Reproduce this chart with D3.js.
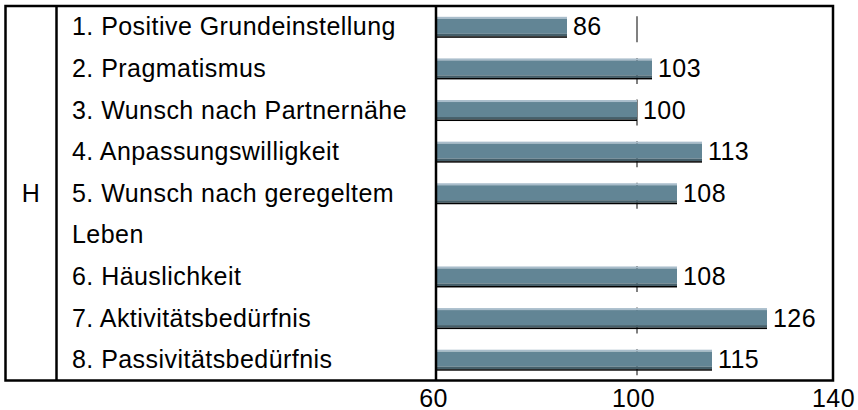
<!DOCTYPE html>
<html>
<head>
<meta charset="utf-8">
<script src="https://cdn.jsdelivr.net/npm/d3@7"></script>
<style>
  body { margin: 0; background: #fff; }
  svg text { font-family: "Liberation Sans", Arial, sans-serif; font-size: 25px; letter-spacing: 0.45px; fill: #000; }
</style>
</head>
<body>
<div id="chart"></div>
<script>
// one entry per item; an item may wrap onto a second row
var items = [
    ["1. Positive Grundeinstellung"],
    ["2. Pragmatismus"],
    ["3. Wunsch nach Partnernähe"],
    ["4. Anpassungswilligkeit"],
    ["5. Wunsch nach geregeltem", "Leben"],
    ["6. Häuslichkeit"],
    ["7. Aktivitätsbedürfnis"],
    ["8. Passivitätsbedürfnis"]
];
var values = [86, 103, 100, 113, 108, 108, 126, 115];
var groupLabel = "H";
var xTicks = [60, 100, 140];
var refValue = 100;

function drawChart() {
    const width = 858;
    const height = 410;
    const boxLeft = 5.5, boxTop = 6, boxRight = 833, boxBottom = 380.5;
    const col1 = 56.5, col2 = 436;

    // figure out which row each item starts on
    var rows = [];
    var rowCount = 0;
    items.forEach(function(lines, i) {
        rows.push({ index: i, row: rowCount, lines: lines, value: values[i] });
        rowCount += lines.length;
    });

    const yScale = d3.scaleBand()
        .domain(d3.range(rowCount))
        .range([boxTop, boxBottom]);
    const step = yScale.step();
    const rowMid = (r) => yScale(r) + step / 2;

    const xScale = d3.scaleLinear()
        .domain([60, 140])
        .range([col2 + 1, boxRight + 4]);

    var svg = d3.select("#chart")
        .append("svg")
        .attr("width", width)
        .attr("height", height);

    // reference line pieces at 100, one per bar row
    svg.append("g")
        .selectAll("line")
        .data(rows)
        .enter()
        .append("line")
        .attr("x1", xScale(refValue))
        .attr("x2", xScale(refValue))
        .attr("y1", (d) => rowMid(d.row) - 10.5)
        .attr("y2", (d) => rowMid(d.row) + 15.5)
        .attr("stroke", "#808080")
        .attr("stroke-width", 2);

    // bars, built of stripes to get the shaded look
    var bars = svg.append("g")
        .selectAll("g")
        .data(rows)
        .enter()
        .append("g")
        .attr("transform", (d) => "translate(" + xScale(60) + "," + (rowMid(d.row) - 10) + ")");

    var stripes = [
        { y: 0, h: 2, color: "#a9bdcb" },
        { y: 2, h: 15, color: "#628595" },
        { y: 17, h: 2.5, color: "#455f6a" },
        { y: 19.5, h: 1.5, color: "#000000" }
    ];
    stripes.forEach(function(s) {
        bars.append("rect")
            .attr("x", 0)
            .attr("y", s.y)
            .attr("width", (d) => xScale(d.value) - xScale(60))
            .attr("height", s.h)
            .attr("fill", s.color);
    });

    // value labels
    svg.append("g")
        .selectAll("text")
        .data(rows)
        .enter()
        .append("text")
        .attr("x", (d) => xScale(d.value) + 6)
        .attr("y", (d) => rowMid(d.row) + 8.5)
        .text((d) => d.value);

    // item labels
    var labelLines = [];
    rows.forEach(function(d) {
        d.lines.forEach(function(line, k) {
            labelLines.push({ text: line, row: d.row + k });
        });
    });
    svg.append("g")
        .selectAll("text")
        .data(labelLines)
        .enter()
        .append("text")
        .attr("x", 72)
        .attr("y", (d) => rowMid(d.row) + 8.5)
        .text((d) => d.text);

    svg.append("text")
        .attr("x", (boxLeft + col1) / 2)
        .attr("y", rowMid(4) + 9)
        .attr("text-anchor", "middle")
        .text(groupLabel);

    // frame
    svg.append("rect")
        .attr("x", boxLeft)
        .attr("y", boxTop)
        .attr("width", boxRight - boxLeft)
        .attr("height", boxBottom - boxTop)
        .attr("fill", "none")
        .attr("stroke", "#000")
        .attr("stroke-width", 2.5);

    [col1, col2].forEach(function(cx) {
        svg.append("line")
            .attr("x1", cx).attr("x2", cx)
            .attr("y1", boxTop).attr("y2", boxBottom)
            .attr("stroke", "#000")
            .attr("stroke-width", 2.5);
    });

    // x axis labels only
    var xAxis = d3.axisBottom(xScale)
        .tickValues(xTicks)
        .tickSize(0);
    var axis = svg.append("g")
        .attr("transform", "translate(0," + boxBottom + ")")
        .call(xAxis);
    axis.select(".domain").remove();
    axis.selectAll("text")
        .attr("y", 26)
        .attr("dy", 0)
        .attr("dx", -4)
        .attr("font-size", null)
        .attr("font-family", null)
        .style("font-size", "25px");
}

drawChart();
</script>
</body>
</html>
